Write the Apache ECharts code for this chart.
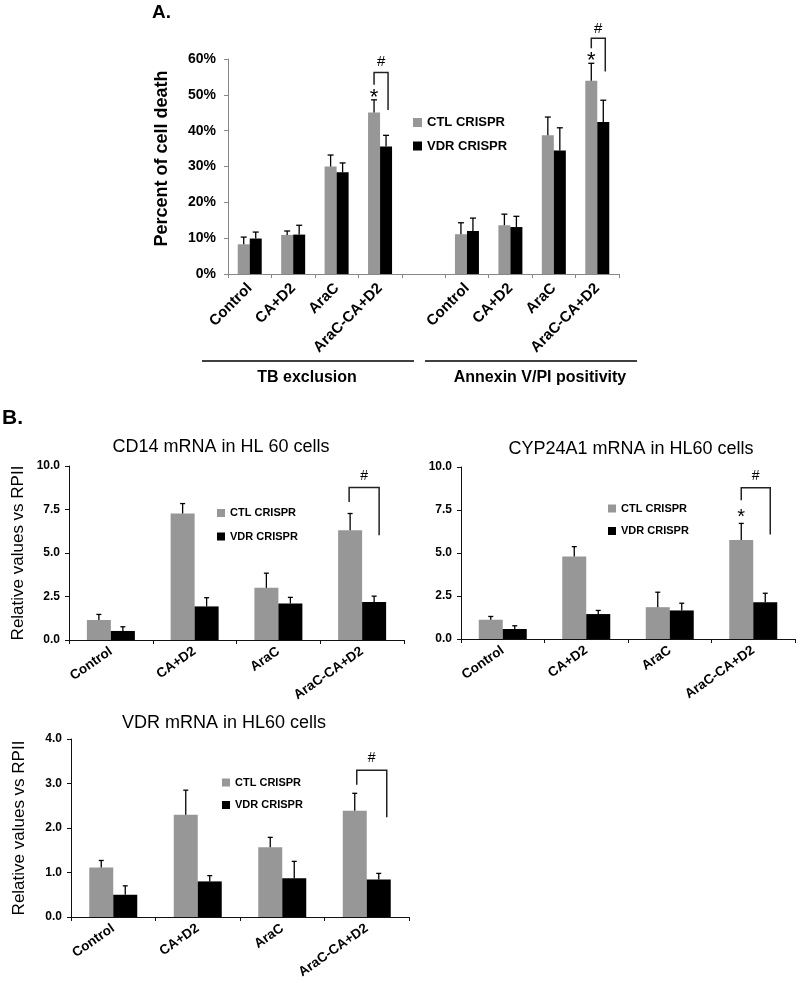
<!DOCTYPE html>
<html><head><meta charset="utf-8">
<script src="https://cdn.jsdelivr.net/npm/echarts@6/dist/echarts.min.js"></script>
<style>html,body{margin:0;padding:0;background:#fff}#c{width:800px;height:986px}</style>
</head><body><div id="c"></div>
<script>
// ---------- Panel A data ----------
const categoriesA = ['Control','CA+D2','AraC','AraC-CA+D2','','Control','CA+D2','AraC','AraC-CA+D2'];
const deathCtl    = [8.3, 10.9, 30.0, 45.1, null, 11.1, 13.6, 38.7, 53.9];
const deathCtlErr = [2.0, 1.1, 3.2, 3.5, null, 3.2, 3.1, 5.1, 4.9];
const deathVdr    = [9.9, 11.0, 28.4, 35.6, null, 12.0, 13.1, 34.5, 42.4];
const deathVdrErr = [1.8, 2.6, 2.6, 3.1, null, 3.6, 3.0, 6.3, 6.1];
const groupLabelsA = ['TB exclusion', 'Annexin V/PI positivity'];
// annotation rows: [category, bracketTop, leftEnd, rightEnd, '#' y, '*' y]
const deathMarks = [[3, 56.2, 52.8, 45.8, 59.1, 50.6], [8, 65.8, 63.0, 56.5, 68.3, 61.1]];

// ---------- Panel B data ----------
const categoriesB = ['Control','CA+D2','AraC','AraC-CA+D2'];
const cd14Ctl    = [1.15, 7.27, 3.00, 6.31];
const cd14CtlErr = [0.32, 0.57, 0.84, 0.96];
const cd14Vdr    = [0.52, 1.93, 2.10, 2.18];
const cd14VdrErr = [0.24, 0.50, 0.35, 0.34];
const cd14Marks  = [[3, 8.76, 7.93, 6.02, 9.40, null]];

const cypCtl    = [1.12, 4.79, 1.85, 5.75];
const cypCtlErr = [0.19, 0.58, 0.87, 0.97];
const cypVdr    = [0.58, 1.45, 1.66, 2.14];
const cypVdrErr = [0.19, 0.21, 0.42, 0.52];
const cypMarks  = [[3, 8.80, 8.07, 6.08, 9.46, 7.33]];

const vdrCtl    = [1.11, 2.30, 1.57, 2.39];
const vdrCtlErr = [0.16, 0.55, 0.22, 0.39];
const vdrVdr    = [0.50, 0.80, 0.87, 0.84];
const vdrVdrErr = [0.20, 0.13, 0.38, 0.14];
const vdrMarks  = [[3, 3.30, 2.97, 2.24, 3.57, null]];

const SERIES_NAMES = ['CTL CRISPR', 'VDR CRISPR'];
const FONT = '"Liberation Sans", Arial, sans-serif';
const GRAY = '#979797';

function errData(mean, err) {
  const out = [];
  mean.forEach((m, i) => { if (m != null) out.push([i, m + err[i], m]); });
  return out;
}
function errRender(offset, cap) {
  return function (params, api) {
    const x = api.value(0);
    const top = api.coord([x, api.value(1)]);
    const base = api.coord([x, api.value(2)]);
    const cx = top[0] + offset;
    return { type: 'group', children: [
      { type: 'line', shape: { x1: cx, y1: base[1], x2: cx, y2: top[1] }, style: { stroke: '#000', lineWidth: 1.3 } },
      { type: 'line', shape: { x1: cx - cap, y1: top[1], x2: cx + cap, y2: top[1] }, style: { stroke: '#000', lineWidth: 1.3 } }
    ]};
  };
}
function markRender(offL, offR, hashSize, starSize) {
  return function (params, api) {
    const cat = api.value(0);
    const p = v => api.coord([cat, v]);
    const c = p(api.value(1));
    const xL = c[0] + offL, xR = c[0] + offR, yT = c[1];
    const yL = p(api.value(2))[1], yR = p(api.value(3))[1], yH = p(api.value(4))[1];
    const children = [
      { type: 'polyline', shape: { points: [[xL, yL], [xL, yT], [xR, yT], [xR, yR]] }, style: { stroke: '#222', lineWidth: 1.5, fill: null } },
      { type: 'text', x: (xL + xR) / 2, y: yH, style: { text: '#', align: 'center', verticalAlign: 'middle', font: hashSize + 'px ' + FONT, fill: '#000' } }
    ];
    const s = api.value(5);
    if (s != null && !isNaN(s)) {
      children.push({ type: 'text', x: xL, y: p(s)[1] + starSize * 0.25, style: { text: '*', align: 'center', verticalAlign: 'middle', font: starSize + 'px ' + FONT, fill: '#000' } });
    }
    return { type: 'group', children };
  };
}

const grids = [
  { left: 228, top: 59, width: 391, height: 215 },
  { left: 69, top: 466, width: 335, height: 174 },
  { left: 461, top: 467, width: 334, height: 172 },
  { left: 71, top: 739, width: 338, height: 178 }
].map(g => Object.assign({ containLabel: false, outerBoundsMode: 'none' }, g));

function xAxisOf(idx, data, rotate, size, axisColor, margin) {
  return {
    gridIndex: idx, type: 'category', data: data,
    axisLine: { show: true, lineStyle: { color: axisColor, width: 1 } },
    axisTick: { show: true, length: 4, inside: false, lineStyle: { color: axisColor } },
    axisLabel: { interval: 0, rotate: rotate, fontSize: size, fontWeight: 'bold', color: '#000', margin: margin, fontFamily: FONT, hideOverlap: false },
    splitLine: { show: false }
  };
}
function yAxisOf(idx, max, interval, fmt, labelSize, margin, axisColor, name, nameSize, nameBold, nameGap, namePad) {
  return {
    gridIndex: idx, type: 'value', min: 0, max: max, interval: interval,
    axisLine: { show: true, lineStyle: { color: axisColor, width: 1 } },
    axisTick: { show: true, length: 4, lineStyle: { color: axisColor } },
    splitLine: { show: false },
    axisLabel: { formatter: fmt, fontSize: labelSize, fontWeight: 'bold', color: '#000', margin: margin, fontFamily: FONT },
    name: name, nameLocation: 'middle', nameGap: nameGap, nameMoveOverlap: false,
    nameTextStyle: { fontSize: nameSize, fontWeight: nameBold ? 'bold' : 'normal', color: '#000', fontFamily: FONT, padding: namePad }
  };
}

const series = [];
function addChart(idx, ctl, ctlErr, vdr, vdrErr, marks, barW, cap, offL, offR, hashSize, starSize) {
  series.push({ name: SERIES_NAMES[0], type: 'bar', xAxisIndex: idx, yAxisIndex: idx, data: ctl, barWidth: barW, barGap: '0%', itemStyle: { color: GRAY }, z: 2 });
  series.push({ name: SERIES_NAMES[1], type: 'bar', xAxisIndex: idx, yAxisIndex: idx, data: vdr, barWidth: barW, barGap: '0%', itemStyle: { color: '#000' }, z: 2 });
  series.push({ name: 'err-ctl-' + idx, type: 'custom', xAxisIndex: idx, yAxisIndex: idx, data: errData(ctl, ctlErr), encode: { x: 0, y: [1, 2] }, renderItem: errRender(-barW / 2, cap), z: 3, silent: true, clip: false });
  series.push({ name: 'err-vdr-' + idx, type: 'custom', xAxisIndex: idx, yAxisIndex: idx, data: errData(vdr, vdrErr), encode: { x: 0, y: [1, 2] }, renderItem: errRender(barW / 2, cap), z: 3, silent: true, clip: false });
  series.push({ name: 'marks-' + idx, type: 'custom', xAxisIndex: idx, yAxisIndex: idx, data: marks, encode: { x: 0, y: 1 }, renderItem: markRender(offL, offR, hashSize, starSize), z: 4, silent: true, clip: false });
}
addChart(0, deathCtl, deathCtlErr, deathVdr, deathVdrErr, deathMarks, 12, 3, -6, 8, 15, 22);
addChart(1, cd14Ctl, cd14CtlErr, cd14Vdr, cd14VdrErr, cd14Marks, 24, 2.5, -13, 17, 14, 18);
addChart(2, cypCtl, cypCtlErr, cypVdr, cypVdrErr, cypMarks, 24, 2.5, -12, 17, 14, 20);
addChart(3, vdrCtl, vdrCtlErr, vdrVdr, vdrVdrErr, vdrMarks, 24, 2.5, -10, 20, 14, 18);

function legendOf(name, left, top, size, icon) {
  return { data: [name], left: left, top: top, orient: 'vertical', padding: 0, icon: 'rect', itemWidth: icon, itemHeight: icon, selectedMode: false,
    textStyle: { fontSize: size, fontWeight: 'bold', color: '#000', fontFamily: FONT } };
}
const fmt1 = v => v.toFixed(1);

const option = {
  animation: false,
  backgroundColor: '#fff',
  title: [
    { text: 'A.', left: 152, top: 3, padding: 0, textStyle: { fontSize: 19, fontWeight: 'bold', color: '#000', fontFamily: FONT } },
    { text: 'B.', left: 2, top: 408, padding: 0, textStyle: { fontSize: 21, fontWeight: 'bold', color: '#000', fontFamily: FONT } },
    { text: 'CD14 mRNA in HL 60 cells', left: 221, textAlign: 'center', top: 438, padding: 0, textStyle: { fontSize: 18, fontWeight: 'normal', color: '#000', fontFamily: FONT } },
    { text: 'CYP24A1 mRNA in HL60 cells', left: 631, textAlign: 'center', top: 440, padding: 0, textStyle: { fontSize: 18, fontWeight: 'normal', color: '#000', fontFamily: FONT } },
    { text: 'VDR mRNA in HL60 cells', left: 224, textAlign: 'center', top: 714, padding: 0, textStyle: { fontSize: 18, fontWeight: 'normal', color: '#000', fontFamily: FONT } }
  ],
  grid: grids,
  xAxis: [
    xAxisOf(0, categoriesA, 45, 15, '#888', 12),
    xAxisOf(1, categoriesB, 35, 13.5, '#111', 10),
    xAxisOf(2, categoriesB, 35, 13.5, '#111', 10),
    xAxisOf(3, categoriesB, 35, 13.5, '#111', 10)
  ],
  yAxis: [
    yAxisOf(0, 60, 10, '{value}%', 14, 12, '#888', 'Percent of cell death', 18, true, 57, [0, 0, 0, 16]),
    yAxisOf(1, 10, 2.5, fmt1, 12, 9, '#111', 'Relative values vs RPII', 17, false, 42, 0),
    yAxisOf(2, 10, 2.5, fmt1, 12, 9, '#111', '', 17, false, 42, 0),
    yAxisOf(3, 4, 1, fmt1, 12, 9, '#111', 'Relative values vs RPII', 17, false, 43, 0)
  ],
  legend: [
    legendOf(SERIES_NAMES[0], 413, 116, 13, 9),
    legendOf(SERIES_NAMES[1], 413, 139.5, 13, 9),
    legendOf(SERIES_NAMES[0], 217, 507.5, 11, 8),
    legendOf(SERIES_NAMES[1], 217, 531, 11, 8),
    legendOf(SERIES_NAMES[0], 608, 503, 11, 8),
    legendOf(SERIES_NAMES[1], 608, 525.5, 11, 8),
    legendOf(SERIES_NAMES[0], 222, 777, 11, 8),
    legendOf(SERIES_NAMES[1], 222, 799.5, 11, 8)
  ],
  graphic: [
    { type: 'line', shape: { x1: 202, y1: 361, x2: 414, y2: 361 }, style: { stroke: '#000', lineWidth: 1.5 } },
    { type: 'line', shape: { x1: 425, y1: 361, x2: 637, y2: 361 }, style: { stroke: '#000', lineWidth: 1.5 } },
    { type: 'text', x: 307, y: 378, style: { text: groupLabelsA[0], align: 'center', verticalAlign: 'middle', font: 'bold 16px ' + FONT, fill: '#000' } },
    { type: 'text', x: 540, y: 378, style: { text: groupLabelsA[1], align: 'center', verticalAlign: 'middle', font: 'bold 16px ' + FONT, fill: '#000' } }
  ],
  series: series
};
const chart = echarts.init(document.getElementById('c'), null, { renderer: 'canvas' });
chart.setOption(option);
</script>
</body></html>
